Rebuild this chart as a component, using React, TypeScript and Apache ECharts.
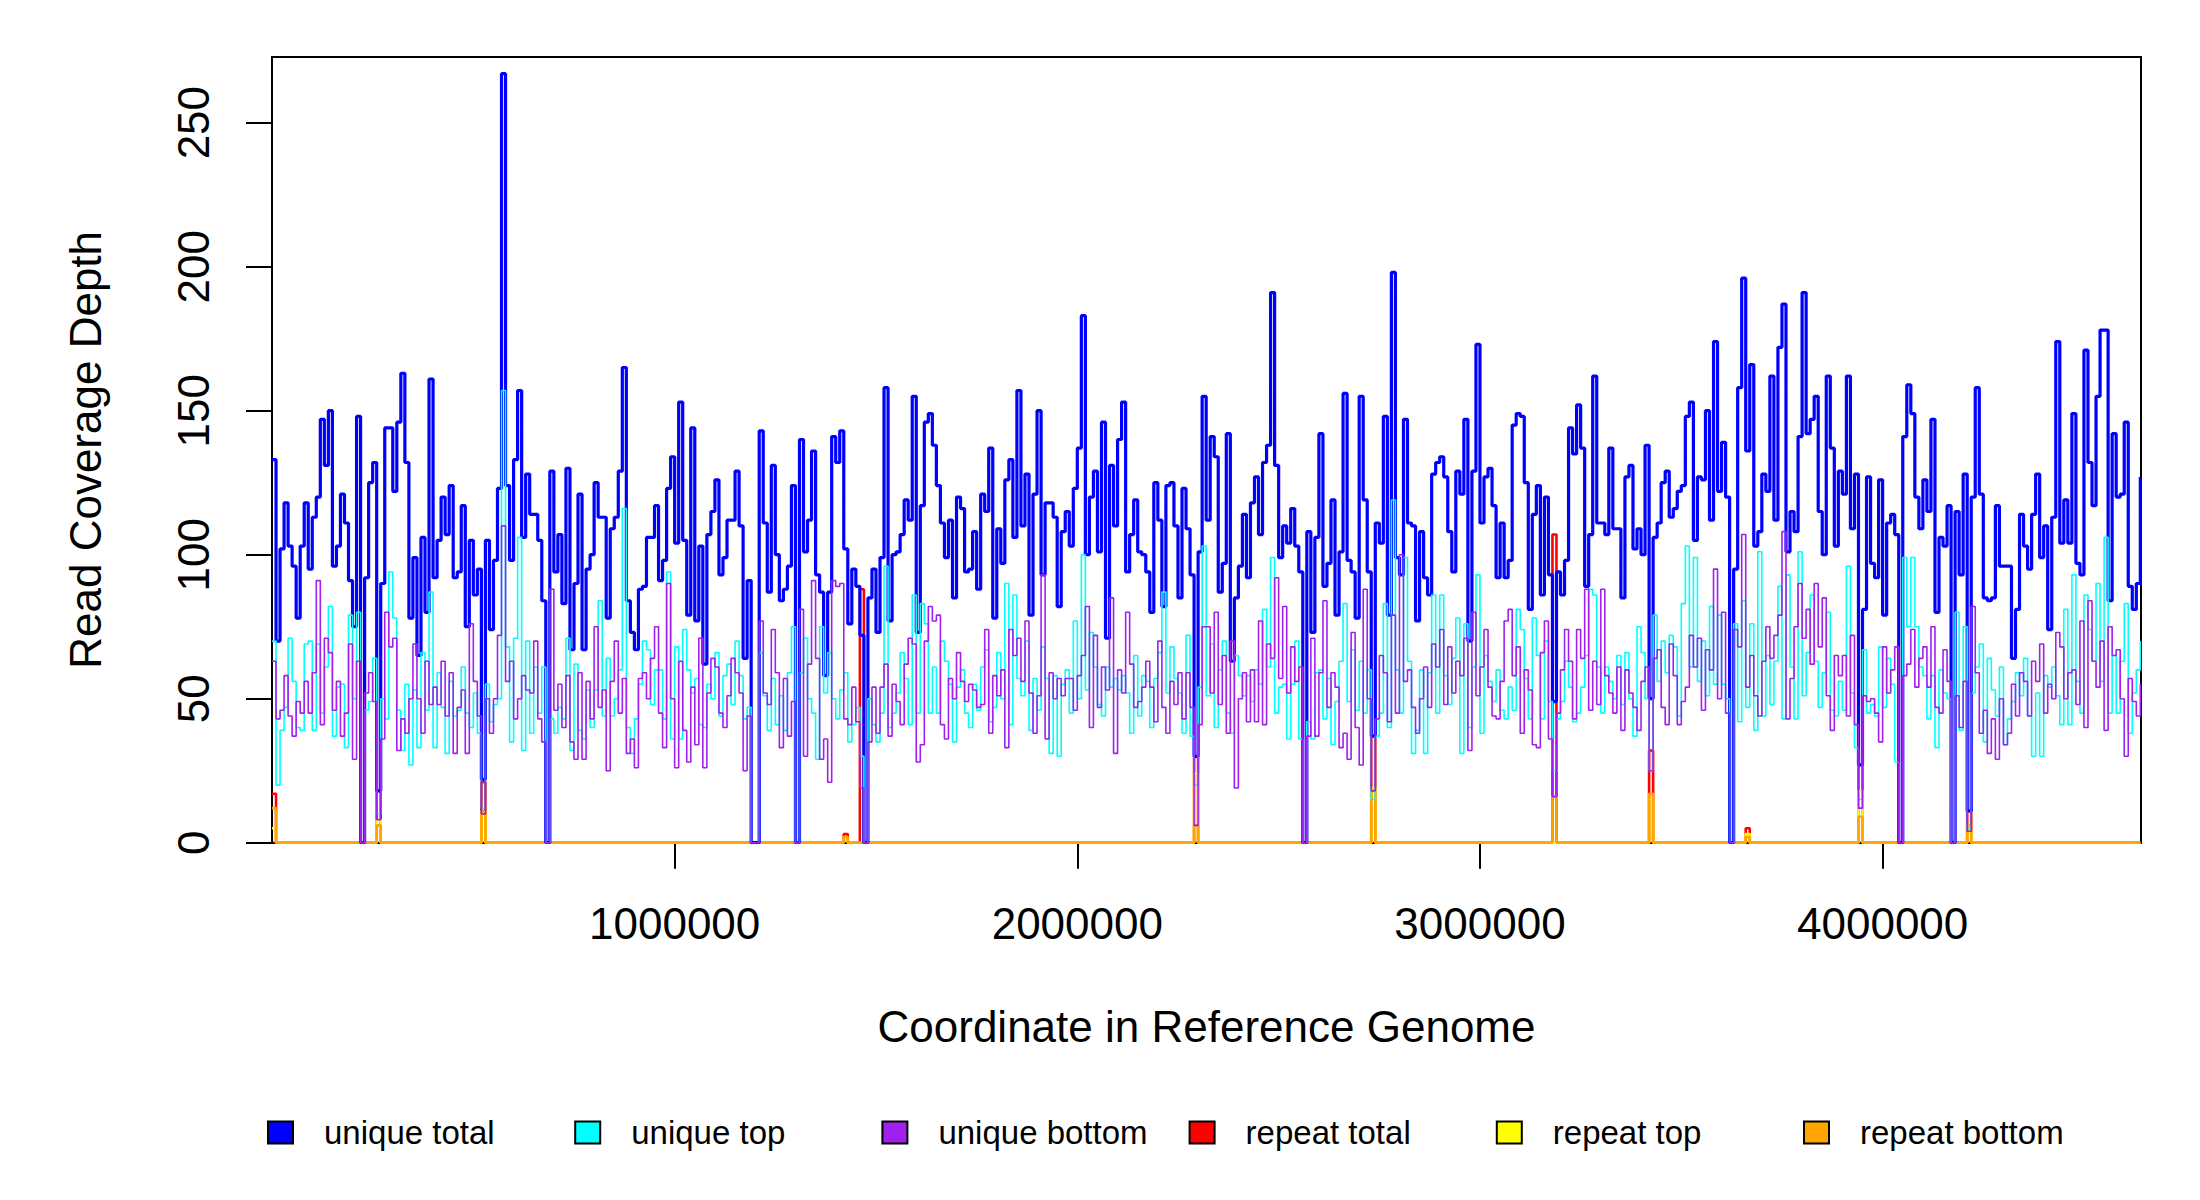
import React, { useEffect, useRef } from "react";
import * as echarts from "echarts";

const GENOME_LENGTH = 4641652;
const BIN_SIZE = 10000;

// unique total coverage per 10 kb bin (bins 0..464)
const uniqueTotal = [
  133, 70, 102, 118, 103, 96, 78, 103, 118, 95, 113, 120, 147, 131, 150, 96, 103, 121, 111, 91,
  75, 148, 0, 92, 125, 132, 18, 90, 144, 144, 122, 146, 163, 132, 78, 99, 65, 106, 80, 161,
  92, 105, 120, 107, 124, 92, 94, 117, 75, 105, 86, 95, 22, 105, 74, 98, 123, 267,
  124, 98, 133, 157, 106, 128, 114, 114, 105, 84, 0, 129, 94, 107, 83, 130, 67, 90, 121, 67,
  95, 100, 125, 113, 113, 78, 109, 113, 129, 165, 84, 73, 67, 88, 89, 106, 106, 117, 91, 98,
  123, 134, 104, 153, 105, 79, 144, 77, 103, 62, 107, 115, 126, 93, 99, 112, 112, 129,
  110, 64, 91, 0, 0, 143, 111, 87, 131, 100, 84, 88, 96, 124, 0, 140, 101, 112, 136, 93,
  87, 58, 87, 141, 132, 143, 102, 76, 95, 89, 72, 0, 85, 95, 73, 99, 158, 77, 100, 101,
  107, 119, 112, 155, 73, 117, 146, 149, 138, 124, 111, 99, 112, 85, 120, 116, 94, 95,
  108, 88, 121, 115, 137, 78, 109, 97, 126, 133, 106, 157, 110, 128, 79, 121, 150, 93, 118, 118,
  113, 82, 108, 115, 103, 123, 137, 183, 100, 120, 129, 101, 146, 71, 131, 110, 140, 153, 94, 107,
  119, 101, 100, 94, 80, 125, 112, 82, 124, 125, 110, 85, 123, 109, 93, 30, 101, 155,
  112, 141, 134, 87, 97, 142, 63, 85, 96, 114, 92, 118, 127, 107, 132, 138, 191, 131, 99, 110,
  104, 116, 103, 94, 0, 108, 73, 106, 142, 89, 97, 119, 79, 101, 156, 98, 94, 78, 155, 119,
  94, 37, 111, 104, 148, 79, 198, 99, 93, 147, 111, 110, 77, 108, 92, 86, 128, 132,
  134, 127, 108, 94, 129, 121, 147, 70, 129, 173, 111, 127, 130, 117, 92, 111, 92, 98, 145, 149,
  148, 125, 81, 114, 124, 86, 120, 93, 49, 94, 86, 98, 144, 135, 152, 137, 89, 107, 162, 111,
  111, 107, 137, 109, 109, 85, 127, 131, 102, 109, 100, 138, 50, 106, 111, 125, 129, 113,
  116, 122, 124, 148, 153, 105, 127, 126, 150, 112, 174, 122, 139, 120, 0, 95, 158, 196, 136, 166,
  103, 108, 128, 122, 162, 112, 172, 187, 101, 115, 108, 141, 191, 142, 147, 155, 115, 100, 162, 137,
  103, 129, 121, 162, 109, 128, 27, 81, 127, 97, 92, 126, 79, 111, 114, 107, 0, 141,
  159, 149, 120, 109, 126, 115, 147, 80, 106, 103, 117, 0, 115, 93, 128, 11, 120, 158, 121, 85,
  84, 85, 117, 96, 96, 96, 64, 81, 114, 103, 95, 114, 128, 99, 110, 74, 113, 174, 104, 119,
  104, 149, 97, 93, 171, 132, 117, 155, 178, 178, 84, 142, 120, 121, 146, 89, 81, 90, 127,
];

const uniqueTop = [
  70, 20, 39, 47, 71, 56, 40, 39, 69, 70, 39, 69, 45, 61, 82, 37, 54, 55, 33, 79,
  50, 80, 0, 46, 49, 64, 10, 50, 43, 94, 78, 46, 32, 55, 27, 53, 33, 66, 46, 87,
  33, 59, 47, 31, 56, 44, 46, 61, 45, 40, 52, 38, 12, 55, 42, 48, 50, 157,
  68, 35, 71, 106, 32, 70, 38, 61, 45, 61, 0, 43, 38, 47, 43, 71, 32, 62, 39, 36,
  53, 40, 53, 84, 44, 64, 44, 50, 60, 116, 40, 31, 43, 55, 70, 67, 48, 60, 60, 43,
  94, 36, 68, 36, 74, 60, 52, 57, 41, 40, 55, 50, 66, 44, 58, 62, 48, 70,
  58, 43, 47, 0, 0, 66, 51, 39, 57, 41, 51, 39, 59, 75, 0, 59, 71, 50, 45, 29,
  75, 52, 66, 50, 43, 53, 59, 35, 41, 47, 30, 0, 50, 41, 35, 45, 96, 40, 45, 52,
  66, 57, 41, 86, 45, 83, 76, 45, 61, 45, 70, 63, 55, 35, 54, 60, 45, 40,
  55, 46, 61, 67, 42, 47, 66, 50, 90, 41, 86, 57, 51, 70, 39, 57, 46, 68, 57, 31,
  58, 30, 55, 60, 45, 77, 50, 100, 53, 73, 61, 48, 44, 61, 54, 57, 53, 58, 52, 38,
  65, 44, 58, 56, 40, 57, 66, 87, 52, 68, 57, 52, 38, 72, 37, 20, 54, 103,
  51, 69, 40, 60, 70, 45, 38, 65, 58, 51, 58, 49, 60, 55, 81, 61, 99, 45, 54, 55,
  36, 55, 70, 36, 0, 42, 36, 59, 60, 43, 57, 34, 49, 63, 83, 49, 67, 46, 63, 45,
  60, 15, 37, 45, 83, 40, 119, 60, 45, 99, 63, 31, 39, 60, 31, 59, 86, 45,
  86, 58, 48, 64, 78, 31, 76, 40, 61, 93, 38, 65, 56, 49, 60, 46, 43, 54, 46, 81,
  74, 57, 43, 78, 65, 43, 70, 49, 25, 43, 49, 63, 54, 42, 45, 54, 65, 88, 86, 61,
  45, 61, 56, 50, 65, 48, 66, 50, 37, 75, 66, 50, 25, 79, 56, 70, 59, 72,
  68, 44, 83, 103, 61, 99, 56, 70, 51, 82, 55, 79, 55, 50, 0, 76, 42, 84, 47, 76,
  39, 101, 44, 65, 48, 63, 89, 43, 93, 61, 43, 101, 51, 66, 86, 63, 47, 59, 80, 46,
  44, 56, 46, 96, 52, 33, 15, 67, 45, 48, 44, 68, 47, 64, 55, 28, 0, 99,
  75, 99, 75, 61, 58, 43, 58, 33, 60, 52, 50, 0, 80, 39, 75, 5, 52, 61, 69, 35,
  64, 53, 44, 61, 34, 43, 49, 59, 51, 64, 44, 30, 52, 30, 58, 54, 61, 51, 41, 81,
  41, 93, 56, 45, 86, 74, 63, 90, 56, 106, 45, 65, 45, 63, 83, 38, 52, 60, 70,
];

const uniqueBottom = [
  63, 43, 46, 58, 44, 37, 49, 45, 56, 45, 59, 91, 41, 71, 66, 46, 56, 37, 45, 69,
  29, 63, 0, 52, 59, 49, 8, 36, 80, 68, 71, 32, 43, 38, 50, 69, 50, 38, 63, 48,
  54, 48, 63, 44, 59, 31, 47, 53, 31, 76, 56, 44, 10, 50, 38, 50, 72, 110,
  56, 63, 43, 50, 58, 53, 52, 70, 43, 35, 0, 88, 46, 55, 40, 58, 35, 29, 59, 29,
  56, 43, 75, 47, 53, 25, 56, 70, 45, 57, 31, 36, 26, 57, 59, 50, 64, 75, 45, 33,
  90, 50, 26, 63, 39, 28, 54, 34, 71, 26, 52, 64, 61, 45, 40, 51, 64, 59,
  52, 25, 44, 0, 0, 77, 52, 48, 74, 59, 33, 57, 37, 49, 0, 81, 30, 62, 91, 64,
  29, 36, 21, 91, 89, 90, 43, 41, 54, 42, 19, 0, 35, 54, 38, 54, 62, 37, 55, 49,
  41, 62, 71, 69, 28, 34, 70, 82, 77, 79, 41, 36, 57, 50, 66, 56, 49, 55,
  53, 47, 48, 74, 38, 58, 51, 60, 33, 74, 65, 71, 56, 77, 52, 38, 51, 93, 36, 59,
  50, 57, 51, 57, 57, 46, 58, 65, 82, 40, 72, 47, 61, 53, 85, 31, 60, 52, 80, 62,
  47, 49, 54, 63, 54, 42, 70, 47, 38, 56, 48, 59, 43, 59, 47, 6, 41, 75,
  75, 52, 80, 48, 65, 38, 70, 19, 50, 59, 42, 60, 42, 77, 41, 69, 64, 92, 57, 82,
  52, 68, 56, 61, 0, 37, 71, 37, 59, 84, 47, 59, 54, 33, 38, 29, 73, 40, 27, 88,
  50, 18, 43, 65, 59, 42, 79, 45, 100, 56, 60, 47, 38, 50, 61, 47, 69, 61,
  74, 48, 68, 52, 63, 58, 71, 32, 80, 51, 61, 74, 54, 44, 43, 56, 77, 81, 58, 68,
  38, 60, 53, 34, 33, 66, 77, 36, 16, 45, 60, 74, 63, 43, 74, 64, 88, 46, 63, 48,
  88, 58, 52, 45, 61, 39, 60, 52, 47, 39, 56, 61, 25, 64, 67, 47, 41, 69,
  58, 41, 49, 54, 72, 61, 71, 46, 67, 60, 95, 50, 80, 45, 0, 74, 68, 107, 54, 65,
  51, 44, 63, 75, 64, 72, 79, 108, 43, 57, 75, 90, 71, 81, 62, 90, 68, 85, 51, 39,
  65, 58, 65, 44, 72, 41, 12, 51, 49, 50, 45, 35, 68, 52, 60, 68, 0, 58,
  62, 74, 54, 64, 68, 54, 75, 47, 45, 67, 56, 0, 51, 40, 56, 4, 82, 59, 38, 46,
  31, 43, 29, 50, 34, 38, 55, 44, 59, 56, 44, 63, 56, 69, 45, 55, 50, 73, 68, 50,
  59, 60, 48, 77, 40, 84, 63, 54, 70, 39, 75, 65, 67, 50, 30, 57, 49, 44, 55,
];

// repeat coverage: non-zero bins only
const repeatBins = [0, 26, 52, 142, 146, 229, 273, 318, 342, 366, 394, 421];
const repeatTotalValues = [17, 18, 21, 3, 88, 30, 37, 107, 32, 5, 27, 11];
const repeatTopValues = [5, 8, 10, 1, 0, 24, 19, 0, 15, 3, 18, 4];
const repeatBottomValues = [12, 6, 11, 2, 0, 6, 18, 16, 17, 2, 9, 6];

const yTicks = [0, 50, 100, 150, 200, 250];
const xTicks = [1000000, 2000000, 3000000, 4000000];

const seriesNames = ["unique total", "unique top", "unique bottom", "repeat total", "repeat top", "repeat bottom"];
const seriesColors = ["#0000FF", "#00FFFF", "#A020F0", "#FF0000", "#FFFF00", "#FFA500"];

const FONT = "Liberation Sans, Arial, Helvetica, sans-serif";

function expandRepeat(values: number[]): number[] {
  const out = new Array(uniqueTotal.length).fill(0);
  repeatBins.forEach((b, i) => {
    out[b] = values[i];
  });
  return out;
}

function toSteps(values: number[]): number[][] {
  const pts = values.map((v, i) => [i * BIN_SIZE, v]);
  pts.push([GENOME_LENGTH, values[values.length - 1]]);
  return pts;
}

export default function App() {
  const ref = useRef<HTMLDivElement>(null);

  useEffect(() => {
    document.body.style.margin = "0";
    if (!ref.current) return;
    const chart = echarts.init(ref.current, undefined, { renderer: "svg" });

    const dataSets: Record<string, number[]> = {
      "unique total": uniqueTotal,
      "unique top": uniqueTop,
      "unique bottom": uniqueBottom,
      "repeat total": expandRepeat(repeatTotalValues),
      "repeat top": expandRepeat(repeatTopValues),
      "repeat bottom": expandRepeat(repeatBottomValues),
    };
    const widths: Record<string, number> = {
      "unique total": 3.2,
      "unique top": 1.6,
      "unique bottom": 1.6,
      "repeat total": 2.6,
      "repeat top": 2.6,
      "repeat bottom": 2.6,
    };
    const drawOrder = ["repeat total", "repeat top", "repeat bottom", "unique total", "unique top", "unique bottom"];

    const series = drawOrder.map((name) => {
      const color = seriesColors[seriesNames.indexOf(name)];
      return {
        type: "line",
        name,
        data: toSteps(dataSets[name]),
        step: "end",
        symbol: "none",
        showSymbol: false,
        lineStyle: { color, width: widths[name] },
        itemStyle: { color },
        emphasis: { disabled: true },
      };
    });

    const legends = seriesNames.map((name, k) => ({
      data: [name],
      left: 267 + k * 307.2,
      top: 1116,
      padding: 0,
      icon: "rect",
      itemWidth: 25,
      itemHeight: 22,
      itemStyle: { borderColor: "#000", borderWidth: 2 },
      textStyle: { fontSize: 33, color: "#000", fontFamily: FONT, padding: [0, 0, 0, 26] },
      selectedMode: false,
    }));

    chart.setOption({
      animation: false,
      backgroundColor: "#fff",
      grid: {
        left: 272,
        right: 59,
        top: 57,
        bottom: 357.3,
        show: true,
        borderColor: "#000",
        borderWidth: 2,
        backgroundColor: "transparent",
        containLabel: false,
        outerBoundsMode: "none",
      },
      legend: legends,
      xAxis: {
        type: "value",
        min: 0,
        max: GENOME_LENGTH,
        name: "Coordinate in Reference Genome",
        nameLocation: "middle",
        nameGap: 162,
        nameTextStyle: { fontSize: 44, color: "#000", fontFamily: FONT },
        axisLine: { show: true, lineStyle: { color: "#000", width: 2 } },
        axisTick: { show: true, length: 26, lineStyle: { color: "#000", width: 2 }, customValues: xTicks },
        axisLabel: {
          customValues: xTicks,
          formatter: (v: number) => String(v),
          fontSize: 44,
          color: "#000",
          fontFamily: FONT,
          margin: 59,
        },
        splitLine: { show: false },
      },
      yAxis: {
        type: "value",
        min: 0,
        max: 272.8,
        name: "Read Coverage Depth",
        nameLocation: "middle",
        nameGap: 165,
        nameRotate: 90,
        nameTextStyle: { fontSize: 44, color: "#000", fontFamily: FONT },
        axisLine: { show: true, lineStyle: { color: "#000", width: 2 } },
        axisTick: { show: true, length: 26, lineStyle: { color: "#000", width: 2 }, customValues: yTicks },
        axisLabel: {
          customValues: yTicks,
          rotate: 90,
          fontSize: 44,
          color: "#000",
          fontFamily: FONT,
          margin: 57,
        },
        splitLine: { show: false },
      },
      series,
    });

    return () => {
      chart.dispose();
    };
  }, []);

  return (
    <div
      ref={ref}
      style={{ position: "absolute", left: 0, top: 0, width: 2200, height: 1200, background: "#fff" }}
    />
  );
}
